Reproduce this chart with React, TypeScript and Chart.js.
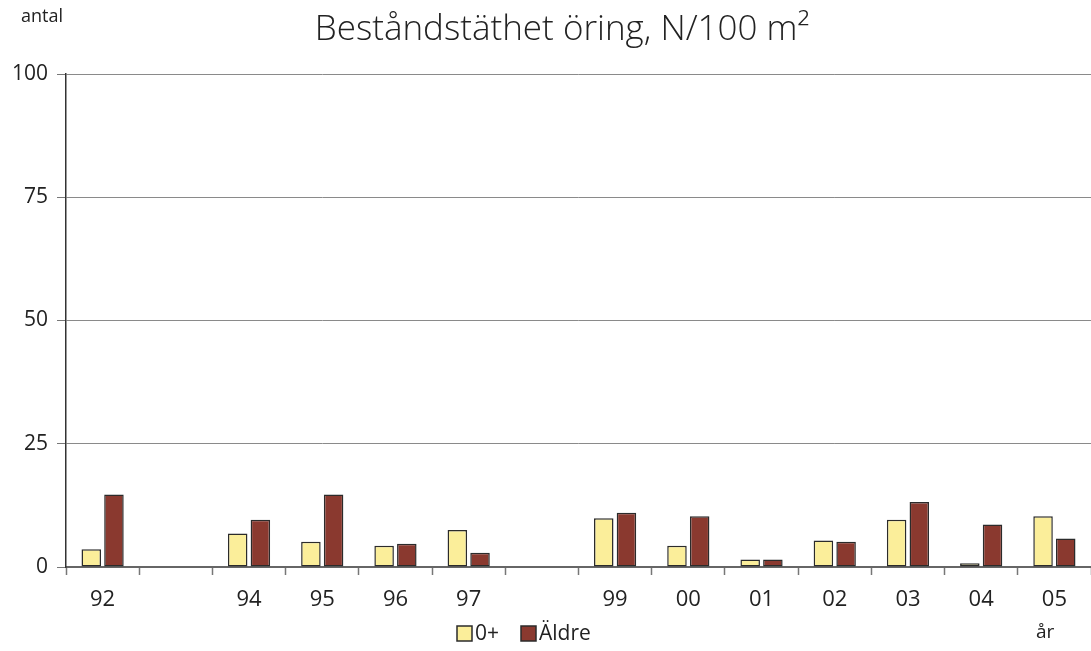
import React, { useEffect, useRef } from 'react';
import { Chart, registerables } from 'chart.js';

Chart.register(...registerables);

const years = ['92', '', '94', '95', '96', '97', '', '99', '00', '01', '02', '03', '04', '05'];
const youngFish = [3.6, null, 6.8, 5.1, 4.3, 7.5, null, 9.9, 4.3, 1.5, 5.4, 9.6, 0.75, 10.3];
const olderFish = [14.7, null, 9.6, 14.7, 4.7, 2.9, null, 11.0, 10.3, 1.5, 5.1, 13.2, 8.6, 5.8];
const yTicks = [0, 25, 50, 75, 100];
const seriesNames = ['0+', 'Äldre'];
const titleText = 'Beståndstäthet öring, N/100 m²';
const yUnit = 'antal';
const xUnit = 'år';

const FONT = "'Open Sans', 'DejaVu Sans', sans-serif";
const YELLOW = '#FBEE9A';
const RED = '#8A392F';
const EDGE = '#2b2b2b';

const textPlugin = {
  id: 'extraText',
  afterDraw(chart: any) {
    const ctx = chart.ctx;
    ctx.save();
    ctx.fillStyle = '#222';
    ctx.textBaseline = 'middle';
    // title
    ctx.font = `300 35px ${FONT}`;
    ctx.textAlign = 'center';
    ctx.fillText(titleText, 562, 30);
    // unit labels
    ctx.font = `18px ${FONT}`;
    ctx.textAlign = 'left';
    ctx.fillText(yUnit, 21, 17);
    ctx.font = `19px ${FONT}`;
    ctx.fillText(xUnit, 1036, 633);
    // legend
    const colors = [YELLOW, RED];
    const xs = [457, 521];
    ctx.font = `21px ${FONT}`;
    seriesNames.forEach((name, i) => {
      ctx.fillStyle = colors[i];
      ctx.fillRect(xs[i], 626, 15, 15);
      ctx.strokeStyle = EDGE;
      ctx.lineWidth = 1.5;
      ctx.strokeRect(xs[i], 626, 15, 15);
      ctx.fillStyle = '#222';
      ctx.fillText(name, xs[i] + 18, 634);
    });
    ctx.restore();
  },
};

export default function App() {
  const ref = useRef<HTMLCanvasElement>(null);
  useEffect(() => {
    if (!ref.current) return;
    const chart = new Chart(ref.current, {
      type: 'bar',
      data: {
        labels: years,
        datasets: [
          {
            label: seriesNames[0],
            data: youngFish,
            backgroundColor: YELLOW,
            borderColor: EDGE,
            borderWidth: 1.5,
            borderSkipped: false,
            categoryPercentage: 0.62,
            barPercentage: 0.86,
          },
          {
            label: seriesNames[1],
            data: olderFish,
            backgroundColor: RED,
            borderColor: EDGE,
            borderWidth: 1.5,
            borderSkipped: false,
            categoryPercentage: 0.62,
            barPercentage: 0.86,
          },
        ],
      },
      options: {
        animation: false,
        responsive: true,
        maintainAspectRatio: false,
        layout: { padding: { top: 74, left: 0, right: 0, bottom: 0 } },
        plugins: {
          legend: { display: false },
          title: { display: false },
          tooltip: { enabled: false },
        },
        scales: {
          x: {
            afterFit: (s: any) => { s.height = 84; },
            grid: {
              offset: true,
              drawOnChartArea: false,
              drawTicks: true,
              tickLength: 8,
              tickColor: '#777',
              tickWidth: 1.5,
            },
            border: { display: true, color: '#666', width: 2 },
            ticks: {
              color: '#222',
              font: { family: FONT, size: 22 },
              padding: 12,
              autoSkip: false,
              maxRotation: 0,
            },
          },
          y: {
            min: 0,
            max: 100,
            afterFit: (s: any) => { s.width = 66; },
            afterBuildTicks: (s: any) => { s.ticks = yTicks.map((v) => ({ value: v })); },
            grid: {
              color: '#8a8a8a',
              lineWidth: 1,
              drawTicks: true,
              tickLength: 9,
              tickColor: '#777',
            },
            border: { display: true, color: '#333', width: 1.5 },
            ticks: {
              color: '#222',
              font: { family: FONT, size: 21 },
              padding: 9,
            },
          },
        },
      },
      plugins: [textPlugin],
    });
    return () => chart.destroy();
  }, []);
  return (
    <div style={{ position: 'fixed', left: 0, top: 0, width: 1091, height: 651, background: '#fff' }}>
      <canvas ref={ref} />
    </div>
  );
}
